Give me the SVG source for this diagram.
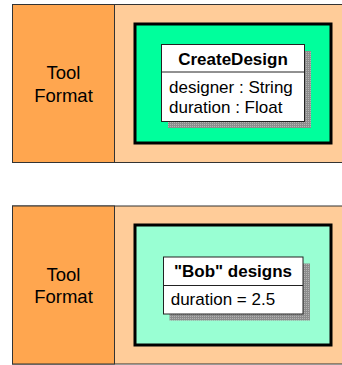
<svg xmlns="http://www.w3.org/2000/svg" width="342" height="365" viewBox="0 0 342 365">
<style>
.tool{fill:#ffa64f;stroke:#333;stroke-width:1}
.area{fill:#ffcc99;stroke:#333;stroke-width:1}
.frame{stroke:#000;stroke-width:3}
.box{fill:#fff;stroke:#222;stroke-width:1}
.shadow{fill:url(#stip)}
text{font-family:"Liberation Sans",Arial,sans-serif;fill:#000}
.lbl{font-size:18.5px;text-anchor:middle}
.hdr{font-size:17px;font-weight:bold;text-anchor:middle}
.attr{font-size:17px}
</style>
<defs>
<pattern id="stip" width="2" height="2" patternUnits="userSpaceOnUse">
<rect width="2" height="2" fill="#8c8c8c"/>
<rect width="1" height="1" fill="#b4b4b4"/>
</pattern>
</defs>
<g id="panel-top">
<rect class="area" x="12.5" y="4.5" width="340" height="158"/>
<rect class="tool" x="12.5" y="4.5" width="102" height="158"/>
<text class="lbl" x="63.5" y="79">Tool</text>
<text class="lbl" x="63.5" y="101.5">Format</text>
<rect class="frame" x="135" y="24" width="196" height="119" fill="#00ff9c"/>
</g>
<g id="class-CreateDesign">
<rect class="shadow" x="168" y="51" width="143" height="77"/>
<rect class="box" x="161.5" y="44.5" width="143" height="77"/>
<line x1="161.5" y1="72" x2="304.5" y2="72" stroke="#222" stroke-width="1"/>
<text class="hdr" x="233" y="65">CreateDesign</text>
<text class="attr" x="169" y="93.3">designer : String</text>
<text class="attr" x="169" y="113.3">duration : Float</text>
</g>
<g id="panel-bottom">
<rect class="area" x="12.5" y="206" width="340" height="158"/>
<rect class="tool" x="12.5" y="206" width="102" height="158"/>
<text class="lbl" x="63.5" y="280.7">Tool</text>
<text class="lbl" x="63.5" y="303.3">Format</text>
<rect class="frame" x="135" y="225" width="196" height="120" fill="#99ffd3"/>
</g>
<g id="object-Bob">
<rect class="shadow" x="169.5" y="263.5" width="140.5" height="57"/>
<rect class="box" x="163.5" y="257" width="139.5" height="57"/>
<line x1="163.5" y1="285.5" x2="303" y2="285.5" stroke="#222" stroke-width="1"/>
<text class="hdr" x="233" y="277.3">"Bob" designs</text>
<text class="attr" x="170.7" y="305">duration = 2.5</text>
</g>
<g id="connectors"/>
</svg>
